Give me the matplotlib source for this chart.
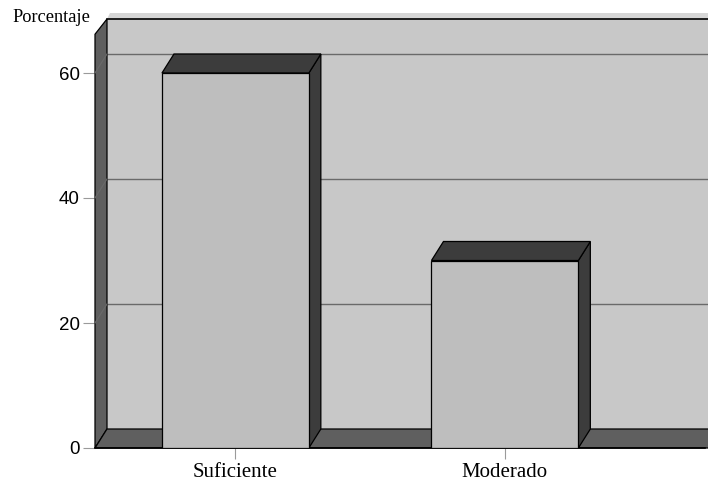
import matplotlib.pyplot as plt
from matplotlib.patches import Polygon

# Data
categories = ["Suficiente", "Moderado"]
values = [60, 30]
y_ticks = [0, 20, 40, 60]

# 3D look (depth in data units) and colours
DX, DY = 0.0445, 3.04
WALL_TOP = 65.6
BAR_W = 0.545
back_color = "#c8c8c8"
wall_color = "#5f5f5f"
front_color = "#bebebe"
dark_color = "#3c3c3c"

fig = plt.figure(figsize=(7.08, 4.82), dpi=100)
ax = fig.add_axes([95 / 708, 34 / 482, 613 / 708, 432 / 482])
xmin, xmax = -0.521, 1.742
ax.set_xlim(xmin, -0.521 + 613 / 269.5)
ax.set_ylim(0, 69.12)
for s in ax.spines.values():
    s.set_visible(False)


def poly(pts, fc, z, lw=0.9):
    ax.add_patch(Polygon(pts, closed=True, facecolor=fc, edgecolor="black",
                         linewidth=lw, zorder=z, clip_on=False))


# back wall (with light strip above the top edge)
top = WALL_TOP + DY
ax.add_patch(Polygon([(xmin + DX, top), (xmax + 0.2, top), (xmax + 0.2, top + 1.0),
                      (xmin + DX + 0.01, top + 1.0)], closed=True, facecolor="#d6d6d6",
                     edgecolor="none", zorder=1, clip_on=False))
ax.add_patch(Polygon([(xmin + DX, DY), (xmax + 0.2, DY), (xmax + 0.2, top),
                      (xmin + DX, top)], closed=True, facecolor=back_color,
                     edgecolor="none", zorder=1, clip_on=False))
ax.plot([xmin + DX, xmax + 0.2], [top, top], color="black", lw=1.2, zorder=2, clip_on=False)

# grid lines on back wall and left wall
for v in y_ticks[1:]:
    ax.plot([xmin + DX, xmax + 0.2], [v + DY, v + DY], color="#6a6a6a", lw=1.0, zorder=2, clip_on=False)
    ax.plot([xmin, xmin + DX], [v, v + DY], color="#6a6a6a", lw=0.8, zorder=4, clip_on=False)

# left wall
poly([(xmin, 0), (xmin, WALL_TOP + 0.6), (xmin + DX, top), (xmin + DX, DY)], wall_color, 3)
# floor
poly([(xmin, 0), (xmin + DX, DY), (xmax + 0.2, DY), (xmax + 0.2, 0)], wall_color, 3)
ax.plot([xmin, xmax], [0, 0], color="black", lw=1.2, zorder=5, clip_on=False)

# bars
xs = list(range(len(categories)))
ax.bar(xs, values, width=BAR_W, color=front_color, edgecolor="black", linewidth=0.9, zorder=7)
for x, v in zip(xs, values):
    l, r = x - BAR_W / 2, x + BAR_W / 2
    poly([(r, 0), (r + DX, DY), (r + DX, v + DY), (r, v)], dark_color, 6)
    poly([(l, v), (l + DX, v + DY), (r + DX, v + DY), (r, v)], dark_color, 6)

# ticks
ax.set_yticks(y_ticks)
ax.set_yticklabels([str(t) for t in y_ticks], fontsize=13.5, family="Liberation Sans")
ax.set_xticks(xs)
ax.set_xticklabels(categories, fontsize=15, family="Liberation Serif")
ax.tick_params(axis="y", length=9, width=0.8, color="#9a9a9a", pad=2)
ax.tick_params(axis="x", length=8, width=0.8, color="#9a9a9a", pad=3)

fig.text(12 / 708, 1 - 18 / 482, "Porcentaje", fontsize=13.2, family="Liberation Serif",
         va="center", ha="left")

fig.savefig("out.png", dpi=100)
